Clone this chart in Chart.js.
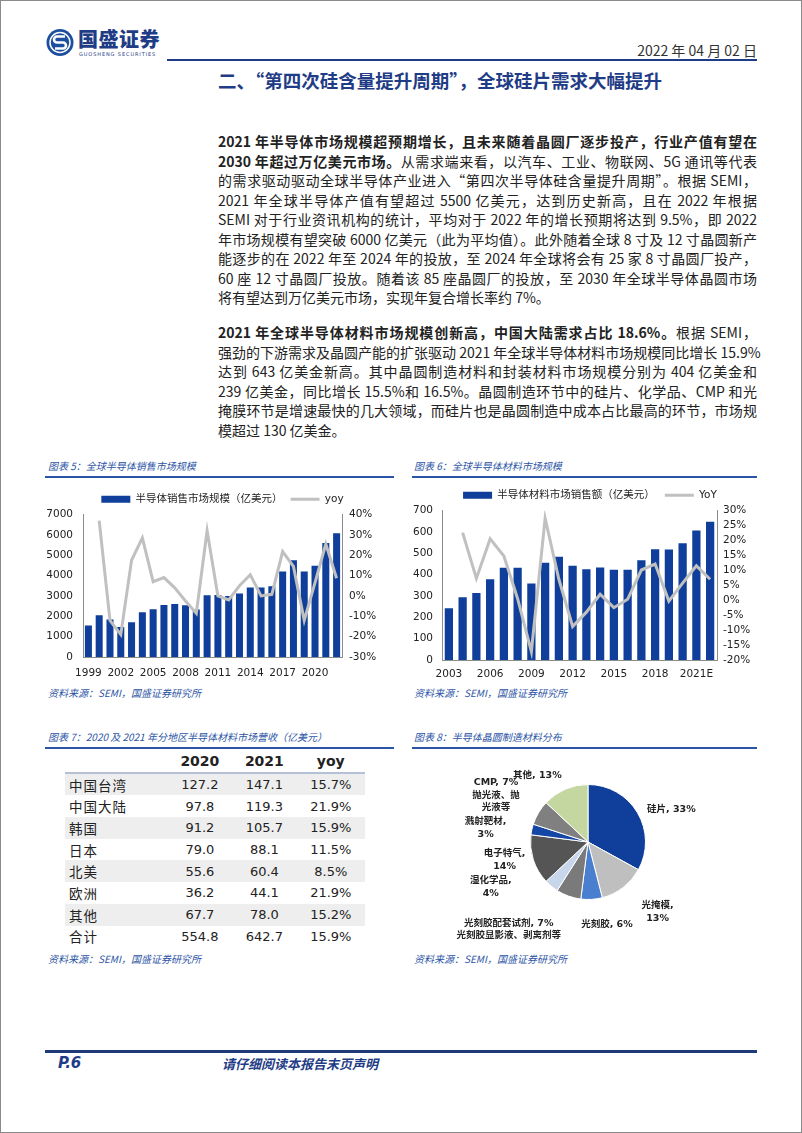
<!DOCTYPE html>
<html>
<head>
<meta charset="utf-8">
<script src="https://cdn.jsdelivr.net/npm/chart.js@4"></script>
<style>
  html, body { margin: 0; padding: 0; background: #fff; }
  body { width: 802px; height: 1133px; position: relative; overflow: hidden;
         font-family: "Noto Sans CJK SC", "DejaVu Sans", sans-serif; color: #222; }
  .frame { position: absolute; left: 0; top: 0; width: 800px; height: 1131px; border: 1px solid #8a8a8a; }
  .abs { position: absolute; }
  .navy { color: #1f3c86; }
  .rule { position: absolute; background: #1f3c86; }
  .para { position: absolute; left: 218px; width: 539px; font-size: 14px; line-height: 19.5px; }
  .para div { white-space: nowrap; text-align: justify; text-align-last: justify; }
  .para div.last { text-align-last: left; }
  .para b { font-weight: 700; }
  .cap { position: absolute; font-size: 10px; font-style: italic; color: #2d55a5; }
  .src { position: absolute; font-size: 10px; font-style: italic; color: #2d55a5; }
  .box { position: absolute; }
  table { position: absolute; left: 65px; top: 750px; width: 300px; border-collapse: collapse; }
  td, th { height: 21.7px; padding: 0; font-family: "DejaVu Sans", "Noto Sans CJK SC", sans-serif; font-size: 13px; text-align: center; }
  th { font-size: 14px; font-weight: 700; border-bottom: 2px solid #b4c0d6; }
  td:first-child { text-align: left; padding-left: 4px; font-family: "Noto Sans CJK SC", sans-serif; font-size: 13.5px; letter-spacing: 1px; }
  tr.g td { background: #eeeeee; }
</style>
</head>
<body>
<div class="frame"></div>

<!-- header -->
<svg class="abs" style="left:45px;top:28px" width="31" height="29" viewBox="0 0 31 29">
  <circle cx="15" cy="14.5" r="13.5" fill="#1c4f9e"/>
  <circle cx="15" cy="14.5" r="10" fill="none" stroke="#fff" stroke-width="1.5"/>
  <path d="M20 8.5 H12 a3 3 0 0 0 0 6 H18 a3 3 0 0 1 0 6 H10" fill="none" stroke="#fff" stroke-width="2.6"/>
</svg>
<div class="abs navy" style="left:78px;top:27px;font-size:20px;font-weight:900;letter-spacing:0.5px;line-height:24px">国盛证券</div>
<div class="abs navy" style="left:79px;top:51px;font-size:5px;letter-spacing:0.9px;line-height:6px;font-family:'DejaVu Sans'">GUOSHENG SECURITIES</div>
<div class="abs" style="right:45px;top:41px;font-size:14px;line-height:18px;color:#333">2022 年 04 月 02 日</div>
<div class="rule" style="left:167px;top:59px;width:590px;height:2px"></div>
<div class="abs navy" style="left:218px;top:68px;font-size:18.5px;font-weight:700;line-height:24px">二、“第四次硅含量提升周期”，全球硅片需求大幅提升</div>

<!-- body text -->
<div class="para" style="top:132px">
  <div><b>2021 年半导体市场规模超预期增长，且未来随着晶圆厂逐步投产，行业产值有望在</b></div>
  <div><b>2030 年超过万亿美元市场。</b>从需求端来看，以汽车、工业、物联网、5G 通讯等代表</div>
  <div>的需求驱动驱动全球半导体产业进入“第四次半导体硅含量提升周期”。根据 SEMI，</div>
  <div>2021 年全球半导体产值有望超过 5500 亿美元，达到历史新高，且在 2022 年根据</div>
  <div>SEMI 对于行业资讯机构的统计，平均对于 2022 年的增长预期将达到 9.5%，即 2022</div>
  <div>年市场规模有望突破 6000 亿美元（此为平均值）。此外随着全球 8 寸及 12 寸晶圆新产</div>
  <div>能逐步的在 2022 年至 2024 年的投放，至 2024 年全球将会有 25 家 8 寸晶圆厂投产，</div>
  <div>60 座 12 寸晶圆厂投放。随着该 85 座晶圆厂的投放，至 2030 年全球半导体晶圆市场</div>
  <div class="last">将有望达到万亿美元市场，实现年复合增长率约 7%。</div>
</div>
<div class="para" style="top:323px">
  <div><b>2021 年全球半导体材料市场规模创新高，中国大陆需求占比 18.6%。</b>根据 SEMI，</div>
  <div class="last">强劲的下游需求及晶圆产能的扩张驱动 2021 年全球半导体材料市场规模同比增长 15.9%</div>
  <div>达到 643 亿美金新高。其中晶圆制造材料和封装材料市场规模分别为 404 亿美金和</div>
  <div>239 亿美金，同比增长 15.5%和 16.5%。晶圆制造环节中的硅片、化学品、CMP 和光</div>
  <div>掩膜环节是增速最快的几大领域，而硅片也是晶圆制造中成本占比最高的环节，市场规</div>
  <div class="last">模超过 130 亿美金。</div>
</div>

<!-- figure captions -->
<div class="cap" style="left:48px;top:458px">图表 5：全球半导体销售市场规模</div>
<div class="rule" style="left:45px;top:476px;width:349px;height:1.5px;background:#2a55a6"></div>
<div class="cap" style="left:414px;top:458px">图表 6：全球半导体材料市场规模</div>
<div class="rule" style="left:412px;top:476px;width:345px;height:1.5px;background:#2a55a6"></div>

<div class="box" style="left:45px;top:482px;width:355px;height:202px"><canvas id="salesChart"></canvas></div>
<div class="box" style="left:400px;top:478px;width:380px;height:205px"><canvas id="materialChart"></canvas></div>

<div class="src" style="left:48px;top:685px">资料来源：SEMI，国盛证券研究所</div>
<div class="src" style="left:414px;top:685px">资料来源：SEMI，国盛证券研究所</div>

<div class="cap" style="left:48px;top:729px">图表 7：2020 及 2021 年分地区半导体材料市场营收（亿美元）</div>
<div class="rule" style="left:45px;top:747px;width:349px;height:1.5px;background:#2a55a6"></div>
<div class="cap" style="left:414px;top:729px">图表 8：半导体晶圆制造材料分布</div>
<div class="rule" style="left:412px;top:747px;width:345px;height:1.5px;background:#2a55a6"></div>

<table id="regionTable"></table>

<div class="box" style="left:440px;top:757px;width:320px;height:190px"><canvas id="pieChart"></canvas></div>

<div class="src" style="left:48px;top:951px">资料来源：SEMI，国盛证券研究所</div>
<div class="src" style="left:414px;top:951px">资料来源：SEMI，国盛证券研究所</div>

<!-- footer -->
<div class="rule" style="left:45px;top:1050px;width:712px;height:3px;background:#1f3a78"></div>
<div class="abs navy" style="left:58px;top:1054px;font-size:15px;font-weight:700;font-style:italic;font-family:'DejaVu Sans'">P.6</div>
<div class="abs navy" style="left:222px;top:1054px;font-size:13px;font-weight:700;font-style:italic">请仔细阅读本报告末页声明</div>

<script>
// Figure 5: global semiconductor sales (100M USD) and yoy (%)
const salesYears = ["1999","2000","2001","2002","2003","2004","2005","2006","2007","2008","2009","2010",
  "2011","2012","2013","2014","2015","2016","2017","2018","2019","2020","2021","2022"];
const salesValues = [1550, 2050, 1840, 1470, 1710, 2200, 2340, 2550, 2600, 2540, 2330, 3030,
  3040, 3000, 3120, 3420, 3420, 3470, 4200, 4750, 4200, 4480, 5600, 6080];
const salesYoy = [null, 37, -12, -19, 17.5, 28.5, 7, 9, 4, -2.5, -8.5, 32,
  0, -2, 5, 10.4, 0, 0.8, 21.8, 14.5, -12, 6.5, 25.5, 8.7];

// Figure 6: global semiconductor materials market (100M USD) and YoY (%)
const materialYears = ["2003","2004","2005","2006","2007","2008","2009","2010","2011","2012",
  "2013","2014","2015","2016","2017","2018","2019","2020","2021E","2022E"];
const materialValues = [242, 294, 314, 378, 432, 432, 358, 455, 484, 441,
  425, 433, 423, 423, 467, 519, 517, 547, 606, 647];
const materialYoy = [null, 22.6, 7.3, 20.5, 14.8, 0.5, -17.2, 27.4, 7, -8.8,
  -4, 2, -2.5, 0.3, 10.1, 12.1, -0.3, 5.7, 11.5, 7];

// Figure 7: revenue by region
const regions = ["中国台湾", "中国大陆", "韩国", "日本", "北美", "欧洲", "其他", "合计"];
const rev2020 = ["127.2", "97.8", "91.2", "79.0", "55.6", "36.2", "67.7", "554.8"];
const rev2021 = ["147.1", "119.3", "105.7", "88.1", "60.4", "44.1", "78.0", "642.7"];
const revYoy = ["15.7%", "21.9%", "15.9%", "11.5%", "8.5%", "21.9%", "15.2%", "15.9%"];

// Figure 8: wafer fab materials breakdown (%)
const pieNames = ["硅片", "光掩模", "光刻胶", "光刻胶配套试剂", "湿化学品", "电子特气", "溅射靶材", "CMP", "其他"];
const pieShares = [33, 13, 6, 7, 4, 14, 3, 7, 13];
const pieNotes = ["", "", "", "光刻胶显影液、剥离剂等", "", "", "", "抛光液、抛光液等", ""];

const BAR_BLUE = "#0f3f9a";
const LINE_GREY = "#c0c0c0";
const AXIS_GREY = "#8c8c8c";
Chart.defaults.font.family = "'DejaVu Sans', 'Noto Sans CJK SC', sans-serif";
Chart.defaults.color = "#222";
Chart.defaults.animation = false;

// build table
const table = document.getElementById("regionTable");
let html = "<tr><th></th><th>2020</th><th>2021</th><th>yoy</th></tr>";
regions.forEach(function (r, i) {
  html += '<tr class="' + (i % 2 === 0 ? "g" : "") + '"><td>' + r + "</td><td>" + rev2020[i] +
    "</td><td>" + rev2021[i] + "</td><td>" + revYoy[i] + "</td></tr>";
});
table.innerHTML = html;

// legend: bar as rect, line as line
function legendItems(chart) {
  const items = Chart.defaults.plugins.legend.labels.generateLabels(chart);
  items.forEach(function (it) {
    const ds = chart.data.datasets[it.datasetIndex];
    if (ds.type === "line") {
      it.pointStyle = "line";
      it.strokeStyle = LINE_GREY;
      it.lineWidth = 3;
    } else {
      it.pointStyle = "rect";
      it.lineWidth = 0;
    }
  });
  return items;
}

function comboChart(id, labels, bars, yoy, barLabel, lineLabel, axes) {
  return new Chart(document.getElementById(id), {
    data: {
      labels: labels,
      datasets: [
        { type: "bar", label: barLabel, data: bars, backgroundColor: BAR_BLUE,
          barPercentage: axes.barPct, categoryPercentage: 1, yAxisID: "y", order: 1 },
        { type: "line", label: lineLabel, data: yoy, borderColor: LINE_GREY, backgroundColor: LINE_GREY,
          borderWidth: 3, pointRadius: 0, tension: 0, yAxisID: "y1", order: 0 }
      ]
    },
    options: {
      responsive: true,
      maintainAspectRatio: false,
      layout: { padding: { top: axes.padTop, left: 0, right: 0, bottom: 0 } },
      plugins: {
        tooltip: { enabled: false },
        legend: {
          position: "top",
          labels: {
            usePointStyle: true, pointStyleWidth: 29, boxHeight: 7, padding: axes.legendPad,
            font: { size: 10.5 }, color: "#222",
            generateLabels: legendItems,
            sort: function (a, b) { return a.datasetIndex - b.datasetIndex; }
          }
        }
      },
      scales: {
        x: {
          grid: { display: false, drawTicks: false },
          border: { color: AXIS_GREY },
          ticks: { autoSkip: false, maxRotation: 0, padding: axes.xPad, font: { size: 10.5 },
            callback: function (v, i) { return i % 3 === 0 ? labels[i] : ""; } },
          afterFit: function (s) { s.height = axes.xHeight; }
        },
        y: {
          position: "left", min: 0, max: axes.yMax,
          grid: { display: false, drawTicks: false },
          border: { color: AXIS_GREY },
          ticks: { stepSize: axes.yStep, autoSkip: false, padding: axes.yPad, font: { size: 10.5 },
            callback: function (v) { return String(v); } },
          afterFit: function (s) { s.width = axes.yWidth; }
        },
        y1: {
          position: "right", min: axes.rMin, max: axes.rMax,
          grid: { display: false, drawTicks: false },
          border: { color: AXIS_GREY },
          ticks: { stepSize: axes.rStep, autoSkip: false, padding: axes.rPad, font: { size: 10.5 },
            callback: function (v) { return v + "%"; } },
          afterFit: function (s) { s.width = axes.rWidth; }
        }
      }
    }
  });
}

comboChart("salesChart", salesYears, salesValues, salesYoy, "半导体销售市场规模（亿美元）", "yoy",
  { barPct: 0.65, padTop: 4, legendPad: 8, xPad: 10, xHeight: 27, yMax: 7000, yStep: 1000,
    yPad: 10, yWidth: 38, rMin: -30, rMax: 40, rStep: 10, rPad: 7, rWidth: 58 });

comboChart("materialChart", materialYears, materialValues, materialYoy, "半导体材料市场销售额（亿美元）", "YoY",
  { barPct: 0.6, padTop: 2, legendPad: 10, xPad: 8, xHeight: 23, yMax: 700, yStep: 100,
    yPad: 9, yWidth: 42, rMin: -20, rMax: 30, rStep: 5, rPad: 6, rWidth: 63 });

// pie labels placed relative to the pie (offsets in radius units from the centre)
const pieLabelPlugin = {
  id: "pieLabels",
  afterDatasetsDraw: function (chart, args, opts) {
    const ctx = chart.ctx;
    const arcs = chart.getDatasetMeta(0).data;
    ctx.save();
    ctx.fillStyle = "#222";
    ctx.textAlign = "center";
    ctx.textBaseline = "middle";
    arcs.forEach(function (arc, i) {
      const r = arc.outerRadius;
      const off = opts.offsets[i];
      const cx = arc.x + off[0] * r;
      const cy = arc.y + off[1] * r;
      const lines = opts.lines[i];
      const top = cy - (lines.length - 1) * 6.25;
      lines.forEach(function (t, k) {
        ctx.font = "700 9.5px 'DejaVu Sans', 'Noto Sans CJK SC', sans-serif";
        ctx.fillText(t, cx, top + k * 12.5);
      });
    });
    ctx.restore();
  }
};

const pieLines = pieNames.map(function (n, i) {
  const main = n + ", " + pieShares[i] + "%";
  if (i === 1 || i === 4 || i === 5 || i === 6) return [n + ",", pieShares[i] + "%"];
  if (i === 3) return [main, pieNotes[i]];
  if (i === 7) return [main, "抛光液、抛", "光液等"];
  return [main];
});

new Chart(document.getElementById("pieChart"), {
  type: "pie",
  data: {
    labels: pieNames,
    datasets: [{
      data: pieShares,
      backgroundColor: ["#0f3f9a", "#bfbfbf", "#4a7fd0", "#7a7a7a", "#c8d6ec", "#555555", "#1446a6", "#808080", "#c4d7a0"],
      borderColor: "#ffffff",
      borderWidth: 1
    }]
  },
  options: {
    responsive: true,
    maintainAspectRatio: false,
    layout: { padding: { left: 90, right: 114, top: 27, bottom: 47 } },
    plugins: {
      legend: { display: false },
      tooltip: { enabled: false },
      pieLabels: {
        lines: pieLines,
        offsets: [[1.45, -0.57], [1.21, 1.22], [0.33, 1.43], [-1.38, 1.52], [-1.69, 0.78],
          [-1.45, 0.31], [-1.78, -0.24], [-1.6, -0.81], [-0.88, -1.16]]
      }
    }
  },
  plugins: [pieLabelPlugin]
});
</script>
</body>
</html>
